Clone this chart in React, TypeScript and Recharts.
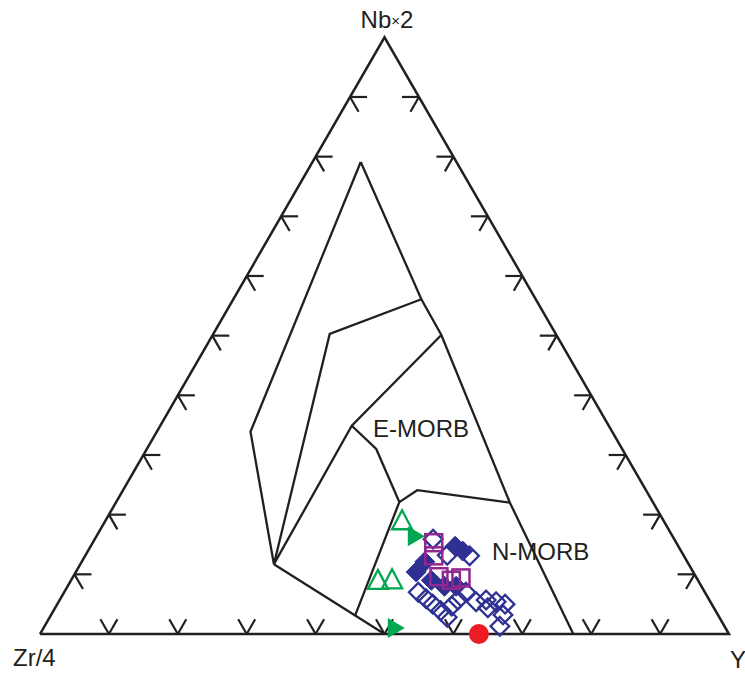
import React from 'react';
import { ScatterChart, Scatter, XAxis, YAxis } from 'recharts';

// Ternary values as [Nb×2, Zr/4, Y] in percent
type T = [number, number, number];

// Outer triangle
const frame: T[] = [[0, 100, 0], [0, 0, 100], [100, 0, 0], [0, 100, 0]];

// Field boundaries (Meschede 1986)
const lineA: T[] = [[79.1, 13.9, 7.0], [33.9, 52.5, 13.6], [11.7, 60.2, 28.1]];
const lineB: T[] = [[79.1, 13.9, 7.0], [56.1, 16.6, 27.3], [50.1, 16.7, 33.2], [22.0, 20.8, 57.2], [0, 22.6, 77.4]];
const lineC: T[] = [[56.1, 16.6, 27.3], [50.3, 32.8, 16.9], [11.7, 60.2, 28.1]];
const lineD: T[] = [[50.1, 16.7, 33.2], [34.9, 37.3, 27.8], [11.7, 60.2, 28.1]];
const lineE: T[] = [[34.9, 37.3, 27.8], [31.0, 35.7, 33.3], [22.1, 36.8, 41.1], [3.0, 52.8, 44.2]];
const lineF: T[] = [[22.1, 36.8, 41.1], [24.1, 33.2, 42.7], [22.0, 20.8, 57.2]];
const lineG: T[] = [[11.7, 60.2, 28.1], [0, 50, 50]];

// Tick marks every 10 %
const tickSteps = [10, 20, 30, 40, 50, 60, 70, 80, 90];

// Samples
const openDiamonds: T[] = [
  [15.9, 35.0, 49.1], [13.2, 34.3, 52.5], [13.1, 31.1, 55.8], [7.0, 41.6, 51.4],
  [5.9, 41.0, 53.1], [5.0, 40.5, 54.5], [3.9, 39.9, 56.2], [2.8, 39.5, 57.7],
  [4.7, 37.9, 57.4], [5.7, 36.5, 57.8], [7.0, 34.7, 58.3], [5.4, 34.0, 60.6],
  [5.7, 32.4, 61.9], [5.4, 31.1, 63.5], [5.0, 30.0, 65.0], [3.2, 31.2, 65.6],
  [1.3, 32.6, 66.1], [4.4, 32.8, 62.8],
];
const filledDiamonds: T[] = [
  [14.7, 32.4, 52.9], [13.9, 31.7, 54.4], [10.4, 40.2, 49.4], [12.1, 38.1, 49.8],
  [9.0, 38.7, 52.3], [8.0, 37.3, 54.7], [8.0, 35.6, 56.4],
];
const openSquares: T[] = [
  [15.3, 35.2, 49.5], [13.1, 36.3, 50.6], [9.6, 37.3, 53.1], [9.0, 35.8, 55.2], [9.4, 34.2, 56.4],
];
const openTriangles: T[] = [[18.9, 38.0, 43.1], [8.9, 46.5, 44.6], [9.0, 44.4, 46.6]];
const filledArrows: T[] = [[16.4, 37.4, 46.2], [1.0, 48.0, 51.0]];
const redCircles: T[] = [[0, 36.3, 63.7]];

const W = 745;
const H = 677;
const X0 = 40;
const YB = 634;
const SIDE = 689;
const INK = '#231f20';
const BLUE = '#2e3192';
const PURPLE = '#92278f';
const GREEN = '#00a651';
const RED = '#ed1c24';
const FONT = '"Liberation Sans", Arial, Helvetica, sans-serif';

const toXY = ([nb, , y]: T) => ({ x: (y + nb / 2) / 100, y: (nb / 100) * Math.sqrt(3) / 2 });
const conv = (arr: T[]) => arr.map(toXY);

const bottomTicks = conv(tickSteps.map((t) => [0, 100 - t, t] as T));
const leftTicks = conv(tickSteps.map((t) => [t, 100 - t, 0] as T));
const rightTicks = conv(tickSteps.map((t) => [t, 0, 100 - t] as T));

const Empty = () => <g />;

const makeTick = (angles: number[]) => (props: any) => {
  const { cx, cy } = props;
  const L = 17;
  return (
    <g>
      {angles.map((a, i) => {
        const r = (a * Math.PI) / 180;
        return (
          <line key={i} x1={cx} y1={cy} x2={cx + L * Math.cos(r)} y2={cy - L * Math.sin(r)}
            stroke={INK} strokeWidth={2.2} strokeLinecap="butt" />
        );
      })}
    </g>
  );
};

const OpenDiamond = (p: any) => {
  const r = 9.3;
  return <polygon points={`${p.cx},${p.cy - r} ${p.cx + r},${p.cy} ${p.cx},${p.cy + r} ${p.cx - r},${p.cy}`}
    fill="none" stroke={BLUE} strokeWidth={2.3} />;
};
const FilledDiamond = (p: any) => {
  const r = 10;
  return <polygon points={`${p.cx},${p.cy - r} ${p.cx + r},${p.cy} ${p.cx},${p.cy + r} ${p.cx - r},${p.cy}`}
    fill={BLUE} stroke={BLUE} strokeWidth={1} />;
};
const OpenSquare = (p: any) => {
  const s = 17;
  return <rect x={p.cx - s / 2} y={p.cy - s / 2} width={s} height={s} fill="none" stroke={PURPLE} strokeWidth={2.5} />;
};
const OpenTriangle = (p: any) => (
  <polygon points={`${p.cx},${p.cy - 11} ${p.cx + 10},${p.cy + 8} ${p.cx - 10},${p.cy + 8}`}
    fill="none" stroke={GREEN} strokeWidth={2.3} />
);
const FilledArrow = (p: any) => (
  <polygon points={`${p.cx - 7},${p.cy - 10} ${p.cx + 10},${p.cy} ${p.cx - 7},${p.cy + 10}`} fill={GREEN} />
);
const RedDot = (p: any) => <circle cx={p.cx} cy={p.cy} r={10} fill={RED} />;

const boundaries = [lineA, lineB, lineC, lineD, lineE, lineF, lineG];

export default function App() {
  return (
    <div style={{ position: 'absolute', left: 0, top: 0, width: W, height: H, background: '#fff' }}>
      <ScatterChart width={W} height={H} margin={{ top: 0, right: 0, bottom: 0, left: 0 }}>
        <XAxis type="number" dataKey="x" hide allowDataOverflow domain={[-X0 / SIDE, (W - X0) / SIDE]} />
        <YAxis type="number" dataKey="y" hide allowDataOverflow domain={[-(H - YB) / SIDE, YB / SIDE]} />
        {boundaries.map((b, i) => (
          <Scatter key={`b${i}`} data={conv(b)} shape={Empty} isAnimationActive={false}
            line={{ stroke: INK, strokeWidth: 2.3, strokeLinejoin: 'miter' } as any} />
        ))}
        <Scatter data={conv(frame)} shape={Empty} isAnimationActive={false}
          line={{ stroke: INK, strokeWidth: 2.5, strokeLinejoin: 'miter' } as any} />
        <Scatter data={bottomTicks} shape={makeTick([60, 120])} isAnimationActive={false} />
        <Scatter data={leftTicks} shape={makeTick([0, -60])} isAnimationActive={false} />
        <Scatter data={rightTicks} shape={makeTick([180, 240])} isAnimationActive={false} />
        <Scatter data={conv(openDiamonds)} shape={OpenDiamond} isAnimationActive={false} />
        <Scatter data={conv(filledDiamonds)} shape={FilledDiamond} isAnimationActive={false} />
        <Scatter data={conv(openSquares)} shape={OpenSquare} isAnimationActive={false} />
        <Scatter data={conv(openTriangles)} shape={OpenTriangle} isAnimationActive={false} />
        <Scatter data={conv(filledArrows)} shape={FilledArrow} isAnimationActive={false} />
        <Scatter data={conv(redCircles)} shape={RedDot} isAnimationActive={false} />
      </ScatterChart>
      <svg width={W} height={H} style={{ position: 'absolute', left: 0, top: 0, pointerEvents: 'none' }}
        fontFamily={FONT} fill={INK}>
        <text x={387} y={28} textAnchor="middle" fontSize={24}>
          Nb<tspan fontSize={15} dy={-2}>×</tspan><tspan dy={2}>2</tspan>
        </text>
        <text x={13} y={666} fontSize={24}>Zr/4</text>
        <text x={730} y={668} fontSize={24}>Y</text>
        <text x={373} y={437} fontSize={24}>E-MORB</text>
        <text x={492} y={560} fontSize={24}>N-MORB</text>
      </svg>
    </div>
  );
}
